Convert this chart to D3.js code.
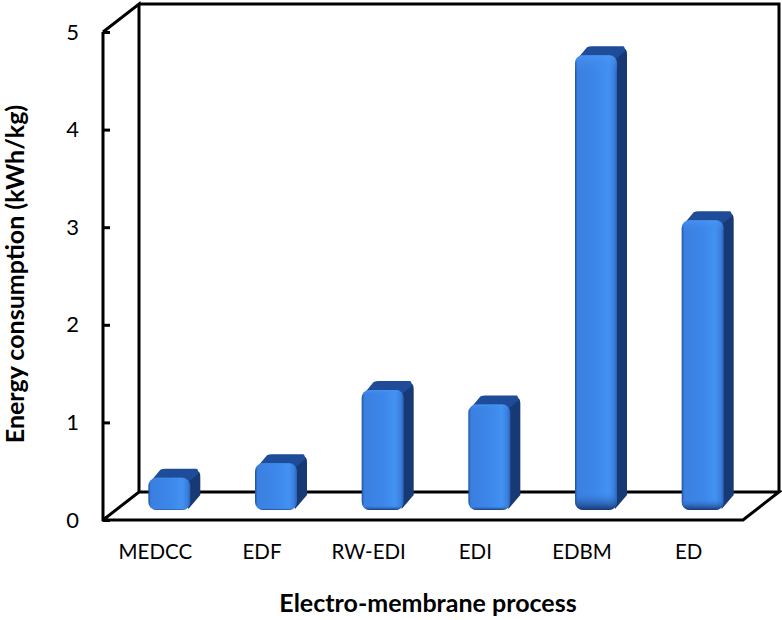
<!DOCTYPE html>
<meta charset="utf-8">
<style type="text/css">
html, body { margin: 0; background: #fff; }
text { font-family: Lato, "Open Sans", sans-serif; fill: #000; }
.tick text { font-size: 22px; }
.x-tick { font-size: 20.5px; }
.title { font-size: 25px; font-weight: bold; }
.wall { fill: none; stroke: #000; stroke-width: 3; }
</style>
<body>
<script src="https://d3js.org/d3.v7.min.js"></script>
<script>
var categories = ["MEDCC", "EDF", "RW-EDI", "EDI", "EDBM", "ED"];
var energy = [0.33, 0.48, 1.23, 1.08, 4.66, 2.97];
var yTicks = [0, 1, 2, 3, 4, 5];

var width = 782, height = 620;
var left = 103, right = 743, top_ = 32, bottom = 520;
var depthX = 36, depthY = -28; // wall depth of the fake 3d box
var barDx = 13, barDy = -10;   // bars stand part way into the box
var sideDx = 10, sideDy = -9;  // depth of each bar

var svg = d3.select("body").append("svg")
    .attr("width", width)
    .attr("height", height);

var xScale = d3.scaleBand().domain(categories).range([left, right]);
var yScale = d3.scaleLinear().domain([0, 5]).range([bottom, top_]);
var barW = 42;

var defs = svg.append("defs");
var grad = defs.append("linearGradient").attr("id", "front");
[[0, "#1f4f9c"], [0.06, "#3a80e0"], [0.5, "#3d86ea"], [0.8, "#4292f2"], [0.93, "#3a7fdf"], [1, "#2a62b4"]].forEach(function(s) {
    grad.append("stop").attr("offset", s[0]).attr("stop-color", s[1]);
});
var fade = defs.append("linearGradient").attr("id", "shade").attr("x2", 0).attr("y2", 1);
[[0, "#4a98f5", 0.7], [0.04, "#3d86ea", 0], [0.96, "#3d86ea", 0], [1, "#122f63", 0.9]].forEach(function(s) {
    fade.append("stop").attr("offset", s[0]).attr("stop-color", s[1]).attr("stop-opacity", s[2]);
});

// box: floor and back wall
var box = d3.path();
box.moveTo(left, yScale(5));
box.lineTo(left, bottom);
box.lineTo(right, bottom);
box.lineTo(right + depthX, bottom + depthY);
box.lineTo(left + depthX, bottom + depthY);
box.lineTo(left, bottom);
box.moveTo(left + depthX, bottom + depthY);
box.lineTo(left + depthX, yScale(5) + depthY);
box.lineTo(left, yScale(5));
box.moveTo(left + depthX, yScale(5) + depthY);
box.lineTo(right + depthX, yScale(5) + depthY);
box.lineTo(right + depthX, bottom + depthY);
svg.append("path").attr("class", "wall").attr("d", box.toString());

// y axis, ticks point in to the box
var yAxis = d3.axisLeft(yScale).tickValues(yTicks).tickSize(-7).tickPadding(24).tickFormat(d3.format("d"));
var yG = svg.append("g").attr("transform", "translate(" + left + ",0)").call(yAxis);
yG.select(".domain").remove();
yG.selectAll("line").attr("stroke", "#000").attr("stroke-width", 3);

var bars = svg.append("g").selectAll("g").data(categories).enter().append("g");

function fx(d) { return xScale(d) + xScale.bandwidth() / 2 - barW / 2 + barDx; }
function fTop(d, i) { return yScale(energy[i]) + barDy; }
var fBot = yScale(0) + barDy;

// side and top faces
bars.append("path")
    .attr("fill", "#173a75")
    .attr("d", function(d, i) {
        var p = d3.path(), x = fx(d) + barW - 8, t = fTop(d, i) + 1;
        p.moveTo(x, t);
        p.lineTo(x + sideDx + 4, t + sideDy + 1);
        p.quadraticCurveTo(x + sideDx + 8, t + sideDy + 1, x + sideDx + 8, t + sideDy + 7);
        p.lineTo(x + sideDx + 8, fBot - 15);
        p.lineTo(x + 6, fBot - 1);
        p.closePath();
        return p.toString();
    });
bars.append("path")
    .attr("fill", "#1f4c98")
    .attr("d", function(d, i) {
        var p = d3.path(), x = fx(d), t = fTop(d, i) + 2;
        p.moveTo(x + 2, t + 2);
        p.lineTo(x + sideDx + 2, t + sideDy - 1);
        p.quadraticCurveTo(x + sideDx + 4, t + sideDy - 2, x + sideDx + 7, t + sideDy - 2);
        p.lineTo(x + barW + sideDx - 4, t + sideDy - 2);
        p.quadraticCurveTo(x + barW + sideDx - 2, t + sideDy - 2, x + barW + sideDx - 2, t + sideDy + 3);
        p.lineTo(x + barW - 4, t + 4);
        p.closePath();
        return p.toString();
    });

// front faces
bars.append("rect")
    .attr("x", fx)
    .attr("y", fTop)
    .attr("width", barW)
    .attr("height", function(d, i) { return fBot - fTop(d, i); })
    .attr("rx", 8)
    .attr("fill", "url(#front)");
bars.append("rect")
    .attr("x", fx)
    .attr("y", fTop)
    .attr("width", barW)
    .attr("height", function(d, i) { return fBot - fTop(d, i); })
    .attr("rx", 8)
    .attr("fill", "url(#shade)");

// category labels
svg.append("g").selectAll("text").data(categories).enter().append("text")
    .attr("class", "x-tick")
    .attr("x", function(d) { return xScale(d) + xScale.bandwidth() / 2 - 1; })
    .attr("y", 559)
    .attr("text-anchor", "middle")
    .text(function(d) { return d; });

svg.append("text").attr("class", "title")
    .attr("x", 428).attr("y", 612)
    .attr("text-anchor", "middle")
    .text("Electro-membrane process");

svg.append("text").attr("class", "title")
    .attr("transform", "translate(24,274) rotate(-90)")
    .attr("text-anchor", "middle")
    .text("Energy consumption (kWh/kg)");
</script>
</body>
